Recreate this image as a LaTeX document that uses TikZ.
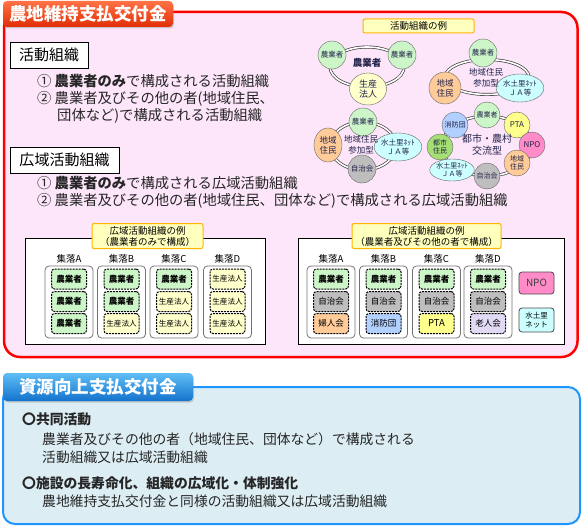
\documentclass[tikz,border=0pt]{standalone}
\usepackage{fontspec}
\setmainfont{Noto Sans CJK JP}
\usetikzlibrary{shapes.geometric,shadows}

\definecolor{panelpink}{RGB}{253,230,250}
\definecolor{framered}{RGB}{255,0,0}
\definecolor{tabredtop}{RGB}{255,115,70}
\definecolor{tabredbot}{RGB}{225,45,5}
\definecolor{panelblue}{RGB}{220,237,243}
\definecolor{frameblue}{RGB}{30,150,255}
\definecolor{tabbluetop}{RGB}{95,190,245}
\definecolor{tabbluebot}{RGB}{20,115,205}
\definecolor{farmgreen}{RGB}{204,245,200}
\definecolor{corpyellow}{RGB}{255,255,204}
\definecolor{residorange}{RGB}{255,204,153}
\definecolor{netcyan}{RGB}{204,255,255}
\definecolor{assocgray}{RGB}{190,190,190}
\definecolor{npopink}{RGB}{255,140,200}
\definecolor{fireblue}{RGB}{178,208,255}
\definecolor{citylime}{RGB}{165,222,115}
\definecolor{ptayellow}{RGB}{255,255,140}
\definecolor{eldlilac}{RGB}{226,218,245}
\definecolor{labelyellow}{RGB}{255,255,190}
\definecolor{labelorange}{RGB}{255,180,0}
\definecolor{inktext}{RGB}{35,35,75}

\newcommand{\fsz}[2]{\fontsize{#1}{#2}\selectfont}

\begin{document}
\begin{tikzpicture}[x=1pt,y=-1pt,
    tabbox/.style={rounded corners=4pt, inner sep=0pt, text=white, font=\fsz{17.5}{18}\bfseries,
      drop shadow={shadow xshift=1pt, shadow yshift=-1.5pt, opacity=0.35}},
    heading/.style={draw, fill=white, line width=0.8pt, inner sep=0pt, minimum height=26pt, font=\fsz{15}{16}},
    listline/.style={anchor=west, inner sep=0pt, text=black!85, font=\fsz{14.3}{15}},
    tag/.style={draw=labelorange, fill=labelyellow, line width=1pt, rounded corners=2pt, inner sep=0pt, align=center, font=\fsz{9.5}{11}},
    ring/.style={draw=black!75, double=white, double distance=1.6pt, line width=0.7pt},
    org/.style={circle, draw=black!60, fill=#1, inner sep=0pt, minimum size=28pt, align=center, text=inktext, font=\fsz{7.5}{9}},
    orgoval/.style={ellipse, draw=black!60, fill=#1, inner sep=0pt, align=center, text=inktext, font=\fsz{7.5}{9}},
    hub/.style={align=center, inner sep=0pt, text=inktext, font=\fsz{8.5}{10.5}},
    panel/.style={draw, fill=white, line width=0.8pt},
    village/.style={draw=black!55, line width=0.8pt, rounded corners=4pt, minimum width=48pt, minimum height=72pt, inner sep=0pt},
    colhead/.style={inner sep=0pt, font=\fsz{9.5}{10}},
    member/.style={draw, fill=#1, line width=1pt, dash pattern=on 2pt off 1pt, rounded corners=3pt,
      minimum width=35pt, minimum height=20pt, inner sep=0pt, font=\fsz{8.5}{9}},
    solo/.style={draw=black!70, fill=#1, line width=0.8pt, rounded corners=3pt, minimum width=35pt, inner sep=0pt, align=center}
  ]
\useasboundingbox (0,0) rectangle (583,527);

% 農地維持支払交付金
\draw[line width=2.5pt, framered, fill=panelpink, rounded corners=16pt] (4,12) rectangle (577.5,357);
\node[tabbox, top color=tabredtop, bottom color=tabredbot, minimum width=170pt, minimum height=26pt] (t1) at (88,14) {農地維持支払交付金};

\node[heading, minimum width=78pt] (k1) at (49,55) {活動組織};
\node[listline] (k1a) at (37,81) {① \textbf{農業者のみ}で構成される活動組織};
\node[listline] (k1b) at (37,99) {② 農業者及びその他の者(地域住民、};
\node[listline] (k1c) at (57,116) {団体など)で構成される活動組織};

\node[heading, minimum width=109pt] (k2) at (64.5,160) {広域活動組織};
\node[listline] (k2a) at (37,183) {① \textbf{農業者のみ}で構成される広域活動組織};
\node[listline] (k2b) at (37,201) {② 農業者及びその他の者(地域住民、団体など)で構成される広域活動組織};

% 活動組織の例
\node[tag, minimum width=111pt, minimum height=14pt] (ex) at (418.5,26) {活動組織の例};

\draw[ring] (367,67) ellipse [x radius=37pt, y radius=20pt];
\node[org=farmgreen] (f1) at (332,55) {農業者};
\node[org=farmgreen] (f2) at (402,55) {農業者};
\node[orgoval=corpyellow, minimum width=37pt, minimum height=32pt, font=\fsz{9}{10.5}] (p1) at (368,89) {生産\\法人};
\node[hub, font=\fsz{9.5}{11}\bfseries] (h1) at (367,63) {農業者};

\draw[ring] (487,77) ellipse [x radius=42pt, y radius=17.5pt];
\node[org=farmgreen] (f3) at (483,53) {農業者};
\node[org=residorange, minimum size=32pt, font=\fsz{8.5}{10}] (r2) at (445,88) {地域\\住民};
\node[orgoval=netcyan, minimum width=41pt, minimum height=28pt] (n2) at (520,88) {水土里ﾈｯﾄ\\ＪＡ等};
\node[hub] (h2) at (486,78) {地域住民\\参加型};

\draw[ring] (363,146) ellipse [x radius=33pt, y radius=24pt];
\node[org=farmgreen] (f4) at (363,122) {農業者};
\node[orgoval=residorange, minimum width=28pt, minimum height=34pt, font=\fsz{8.5}{10}] (r3) at (328,145) {地域\\住民};
\node[orgoval=netcyan, minimum width=41pt, minimum height=28pt] (n3) at (398,147) {水土里ﾈｯﾄ\\ＪＡ等};
\node[org=assocgray] (a3) at (362,169) {自治会};
\node[hub] (h3) at (361,145) {地域住民\\参加型};

\draw[ring] (487,146) ellipse [x radius=45pt, y radius=30pt];
\node[org=farmgreen, minimum size=26pt, font=\fsz{7}{8}] (f5) at (487,115) {農業者};
\node[org=ptayellow, minimum size=26pt, font=\fsz{8}{9}] (t5) at (517,125) {PTA};
\node[org=npopink, minimum size=26pt, font=\fsz{8}{9}] (o5) at (532,145) {NPO};
\node[org=residorange, minimum size=26pt, font=\fsz{7}{8.5}] (r5) at (517,163) {地域\\住民};
\node[org=assocgray, minimum size=26pt, font=\fsz{7}{8}] (a5) at (487,176) {自治会};
\node[orgoval=netcyan, minimum width=38pt, minimum height=22pt, font=\fsz{7}{8.5}] (n5) at (452,170) {水土里ﾈｯﾄ\\ＪＡ等};
\node[org=citylime, minimum size=26pt, font=\fsz{7}{8.5}] (c5) at (440,147) {都市\\住民};
\node[org=fireblue, minimum size=26pt, font=\fsz{7}{8}] (b5) at (455,125) {消防団};
\node[hub, font=\fsz{10}{12}] (h5) at (487,145) {都市・農村\\交流型};

% 広域活動組織の例（農業者のみ）
\draw[panel] (25,238) rectangle (265,344);
\node[tag, minimum width=111pt, minimum height=25pt] (lt) at (147.5,236) {広域活動組織の例\\（農業者のみで構成）};
\foreach \c/\x in {A/69,B/121.5,C/174,D/227.5} {
  \node[village] (lv\c) at (\x,302) {};
  \node[colhead] (lh\c) at (\x,259) {集落\c};
}
\foreach \x/\y [count=\i] in {69/279,69/301.5,69/323.5,121.5/279,121.5/301.5,174/279}
  \node[member=farmgreen, font=\fsz{8.5}{9}\bfseries] (lf\i) at (\x,\y) {農業者};
\foreach \x/\y [count=\i] in {121.5/323.5,174/301.5,174/323.5,227.5/279,227.5/301.5,227.5/323.5}
  \node[member=corpyellow, font=\fsz{7.6}{8}] (lc\i) at (\x,\y) {生産法人};

% 広域活動組織の例（農業者及びその他の者）
\draw[panel] (298,238) rectangle (564,344);
\node[tag, minimum width=149pt, minimum height=25pt] (rt) at (426.5,236) {広域活動組織の例\\（農業者及びその他の者で構成）};
\foreach \c/\x in {A/331,B/383.5,C/436.5,D/488} {
  \node[village] (rv\c) at (\x,302) {};
  \node[colhead] (rh\c) at (\x,259) {集落\c};
  \node[member=farmgreen, font=\fsz{8.5}{9}\bfseries] (rf\c) at (\x,279) {農業者};
  \node[member=assocgray] (ra\c) at (\x,301.5) {自治会};
}
\node[member=residorange] (rwA) at (331,323.5) {婦人会};
\node[member=fireblue] (rwB) at (383.5,323.5) {消防団};
\node[member=ptayellow, font=\fsz{9.5}{10}] (rwC) at (436.5,323.5) {PTA};
\node[member=eldlilac] (rwD) at (488,323.5) {老人会};
\node[solo=npopink, minimum height=22pt, font=\fsz{10}{10}, text=black!75] (npo) at (536.5,283) {NPO};
\node[solo=netcyan, minimum height=24pt, font=\fsz{7.5}{9}] (net) at (536.5,320) {水土里\\ネット};

% 資源向上支払交付金
\draw[line width=2pt, frameblue, fill=panelblue, rounded corners=12pt] (3,387) rectangle (580,524);
\node[tabbox, top color=tabbluetop, bottom color=tabbluebot, minimum width=190pt, minimum height=28pt] (t2) at (98,387) {資源向上支払交付金};

\node[listline, font=\fsz{13.8}{14}\bfseries] (s1) at (22,419) {〇共同活動};
\node[listline, font=\fsz{13.8}{14}] (s1a) at (42,439) {農業者及びその他の者（地域住民、団体など）で構成される};
\node[listline, font=\fsz{13.8}{14}] (s1b) at (42,457) {活動組織又は広域活動組織};
\node[listline, font=\fsz{13.8}{14}\bfseries] (s2) at (22,483) {〇施設の長寿命化、組織の広域化・体制強化};
\node[listline, font=\fsz{13.8}{14}] (s2a) at (42,501) {農地維持支払交付金と同様の活動組織又は広域活動組織};
\end{tikzpicture}
\end{document}
